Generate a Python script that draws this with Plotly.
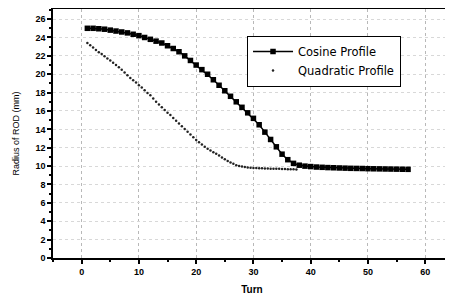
import plotly.graph_objects as go

# Cosine profile: turn vs radius (mm)
cos_turn = list(range(1, 58))
cos_radius = [25.0, 25.0, 24.95, 24.9, 24.8, 24.7, 24.6, 24.5, 24.35, 24.2,
              24.0, 23.8, 23.6, 23.4, 23.1, 22.8, 22.45, 22.0, 21.5, 21.0,
              20.5, 20.0, 19.4, 18.8, 18.2, 17.6, 17.0, 16.4, 15.8, 15.2,
              14.5, 13.7, 12.9, 12.1, 11.3, 10.7, 10.3, 10.1, 10.0, 9.95,
              9.9, 9.87, 9.84, 9.82, 9.8, 9.78, 9.76, 9.75, 9.74, 9.72,
              9.71, 9.7, 9.69, 9.68, 9.67, 9.66, 9.65]

# Quadratic profile: turn vs radius (mm)
quad_turn = [1.0, 1.5, 2.0, 2.5, 3.0, 3.5, 4.0, 4.5, 5.0, 5.5, 6.0, 6.5, 7.0, 7.5,
             8.0, 8.5, 9.0, 9.5, 10.0, 10.5, 11.0, 11.5, 12.0, 12.5, 13.0, 13.5,
             14.0, 14.5, 15.0, 15.5, 16.0, 16.5, 17.0, 17.5, 18.0, 18.5, 19.0,
             19.5, 20.0, 20.5, 21.0, 21.5, 22.0, 22.5, 23.0, 23.5, 24.0, 24.5,
             25.0, 25.5, 26.0, 26.5, 27.0, 27.5, 28.0, 28.5, 29.0, 29.5, 30.0,
             30.5, 31.0, 31.5, 32.0, 32.5, 33.0, 33.5, 34.0, 34.5, 35.0, 35.5,
             36.0, 36.5, 37.0, 37.5]
quad_radius = [23.4, 23.15, 22.9, 22.65, 22.4, 22.2, 21.95, 21.7, 21.5, 21.25,
               21.0, 20.75, 20.5, 20.2, 19.9, 19.6, 19.35, 19.1, 18.8, 18.55,
               18.25, 17.95, 17.7, 17.35, 17.0, 16.7, 16.4, 16.1, 15.8, 15.55,
               15.25, 14.95, 14.65, 14.35, 14.05, 13.75, 13.45, 13.15, 12.85,
               12.6, 12.35, 12.1, 11.9, 11.7, 11.5, 11.35, 11.15, 10.95, 10.75,
               10.55, 10.4, 10.25, 10.1, 10.0, 9.95, 9.9, 9.86, 9.83, 9.8, 9.8,
               9.78, 9.76, 9.75, 9.74, 9.72, 9.72, 9.7, 9.7, 9.68, 9.68, 9.66,
               9.66, 9.65, 9.62]

x_ticks = [0, 10, 20, 30, 40, 50, 60]
y_ticks = [0, 2, 4, 6, 8, 10, 12, 14, 16, 18, 20, 22, 24, 26]

fig = go.Figure()
fig.add_trace(go.Scatter(
    x=cos_turn, y=cos_radius, mode="lines+markers", name="Cosine Profile",
    line=dict(color="black", width=1.5),
    marker=dict(symbol="square", size=5.5, color="black"),
))
fig.add_trace(go.Scatter(
    x=quad_turn, y=quad_radius, mode="markers", name="Quadratic Profile",
    marker=dict(symbol="circle", size=2.5, color="#222222"),
))

axis_common = dict(
    showline=True, linecolor="black", linewidth=1.5, mirror="ticks",
    ticks="outside", tickcolor="black", ticklen=4, tickwidth=1.5,
    showgrid=True, griddash="dot", gridwidth=1,
    zeroline=False, automargin=False,
    tickfont=dict(family="Liberation Sans", size=9, color="black", weight="bold"),
)

# page body has an 8px default margin, so the figure is sized to fit 453x298
fig.update_layout(
    width=445, height=290,
    margin=dict(l=45, r=2, t=1, b=40),
    paper_bgcolor="white", plot_bgcolor="white",
    font=dict(family="Liberation Sans", color="black"),
    xaxis=dict(range=[-5, 64.5], tickvals=x_ticks, gridcolor="#b8b8b8",
               minor=dict(dtick=5, tick0=0, ticks="outside", ticklen=2, tickcolor="black", showgrid=False),
               title=dict(text="<b>Turn</b>", font=dict(size=10), standoff=10),
               **axis_common),
    yaxis=dict(range=[0, 27.1], tickvals=y_ticks, gridcolor="#d8d8d8",
               minor=dict(dtick=1, tick0=0, ticks="outside", ticklen=2, tickcolor="black", showgrid=False),
               title=dict(text="Radius of ROD (mm)", font=dict(size=9), standoff=14),
               **axis_common),
    legend=dict(x=0.487, y=0.892, xanchor="left", yanchor="top",
                bordercolor="black", borderwidth=1.2, bgcolor="white",
                font=dict(size=11.5, family="DejaVu Sans"),
                tracegroupgap=0, itemwidth=40),
    showlegend=True,
)

fig.write_html("out.html")
